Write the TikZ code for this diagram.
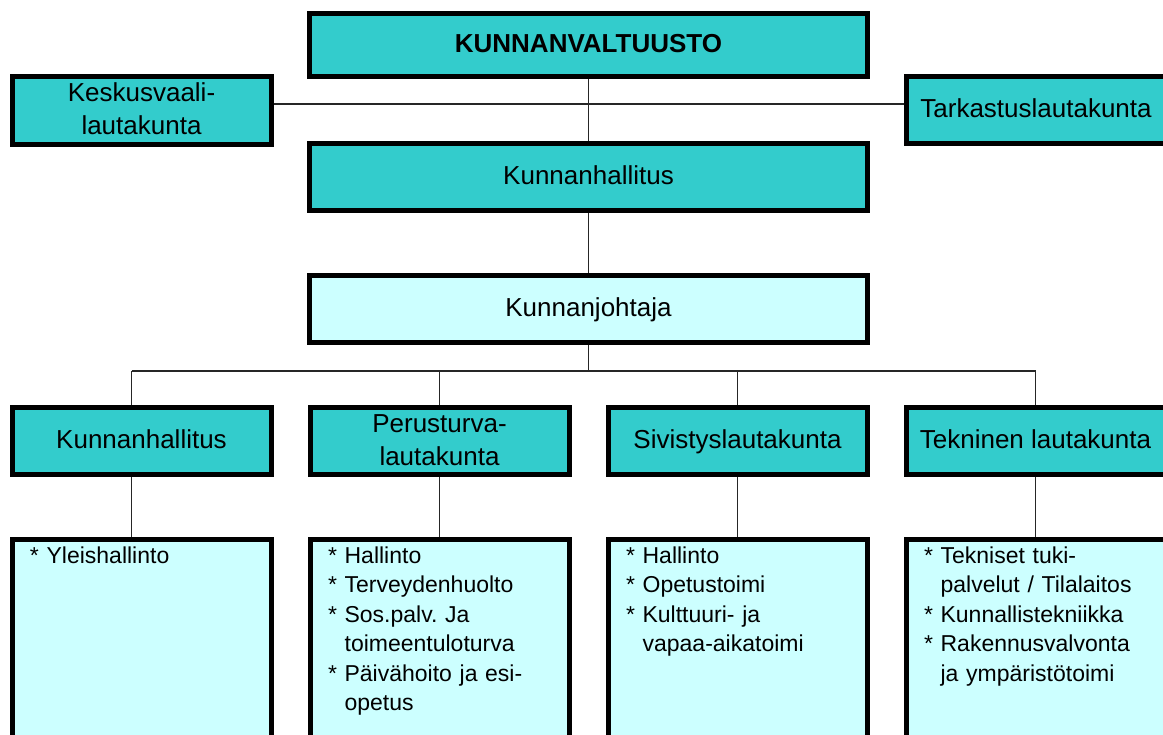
\documentclass[tikz,border=0pt]{standalone}
\usepackage{fontspec}
\setmainfont{Liberation Sans}
\usepackage{tikz}
\usetikzlibrary{positioning}
\definecolor{turkoosi}{RGB}{51,204,204}
\definecolor{vaalea}{RGB}{204,255,255}
\newcommand{\kohta}{*\ }
\newcommand{\jatko}{\hphantom{*\ }}
\newcommand{\tuki}{\rule[-9pt]{0pt}{34pt}}
\frenchspacing
\tikzset{
    org/.style={draw, line width=5pt, fill=turkoosi, inner sep=0pt, align=center,
        minimum width=259pt, minimum height=67pt, font=\fontsize{26}{33}\selectfont,
        execute at begin node=\tuki, execute at end node=\tuki},
    chief/.style={org, minimum width=558pt},
    duty/.style={draw, line width=5pt, fill=vaalea, inner xsep=18pt, inner ysep=0pt, align=left,
        text width=223pt, text height=23.5pt, text depth=220pt, font=\fontsize{23}{29.5}\selectfont},
    link/.style={line width=1.3pt, draw=black!85},
    node distance=60pt
}

\begin{document}
\begin{tikzpicture}[x=1pt, y=-1pt]
    \useasboundingbox (0,0) rectangle (1163,735);
    \clip (0,0) rectangle (1163,735);

    \node[chief, minimum height=63pt, font=\fontsize{26}{33}\selectfont\bfseries] (valt) at (588.5,45) {KUNNANVALTUUSTO};
    \node[chief, below=62pt of valt] (khal) {Kunnanhallitus};
    \node[chief, fill=vaalea, below=60pt of khal] (johto) {Kunnanjohtaja};
    \node[org, minimum height=68pt] (kesk) at (141.5,110.5) {\tuki Keskusvaali-\\lautakunta};
    \node[org] (tark) at (1036,110) {Tarkastuslautakunta};

    \coordinate (hub) at (588.5,104);
    \coordinate (bus) at (588.5,371);

    \node[org] (c1) at (141.5,441) {Kunnanhallitus};
    \node[org, right=34pt of c1] (c2) {\tuki Perusturva-\\lautakunta};
    \node[org, right=34pt of c2] (c3) {Sivistyslautakunta};
    \node[org, right=34pt of c3] (c4) {Tekninen lautakunta};

    \node[duty, below=of c1] (d1) {\kohta Yleishallinto};
    \node[duty, below=of c2] (d2) {\kohta Hallinto\\\kohta Terveydenhuolto\\\kohta Sos.palv. Ja\\\jatko toimeentuloturva\\\kohta Päivähoito ja esi-\\\jatko opetus};
    \node[duty, below=of c3] (d3) {\kohta Hallinto\\\kohta Opetustoimi\\\kohta Kulttuuri- ja\\\jatko vapaa-aikatoimi};
    \node[duty, below=of c4] (d4) {\kohta Tekniset tuki-\\\jatko palvelut / Tilalaitos\\\kohta Kunnallistekniikka\\\kohta Rakennusvalvonta\\\jatko ja ympäristötoimi};

    \draw[link] (valt) -- (khal);
    \draw[link] (kesk.east |- hub) -- (tark.west |- hub);
    \draw[link] (khal) -- (johto);
    \draw[link] (johto) -- (bus);
    \draw[link] ([xshift=-10pt]c1.north |- bus) -- (c4.north |- bus);
    \draw[link] ([xshift=-10pt]c1.north) -- ([xshift=-10pt]c1.north |- bus);
    \draw[link] ([xshift=-10pt]c1.south) -- ([xshift=-10pt]d1.north);
    \foreach \i in {2,...,4} {
        \draw[link] (c\i.north) -- (c\i.north |- bus);
        \draw[link] (c\i) -- (d\i);
    }
\end{tikzpicture}
\end{document}
